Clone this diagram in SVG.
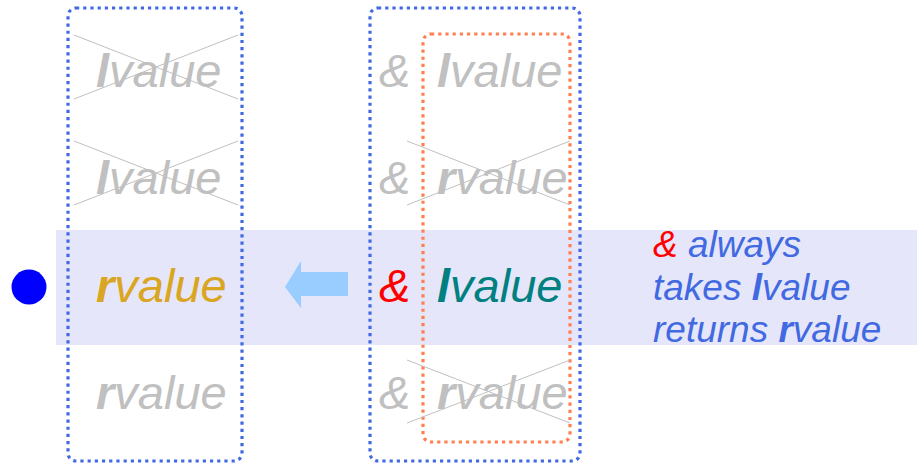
<svg xmlns="http://www.w3.org/2000/svg" width="917" height="464" viewBox="0 0 917 464">
<style>
.t{font-family:"Liberation Sans",Arial,sans-serif;font-style:italic;font-size:47px}
.g{fill:#c0c0c0}
.b{font-weight:bold}
.x{stroke:#c0c0c0;stroke-width:1;fill:none}
.box{fill:none;stroke-width:3.2;stroke-dasharray:3.2 4;stroke-linecap:butt}
.blue{stroke:#4169e1}
.org{stroke:#ff7f50}
.note{font-family:"Liberation Sans",Arial,sans-serif;font-style:italic;font-size:37px;fill:#4169e1}
</style>
<rect id="band" x="56" y="230" width="861" height="115" fill="#e6e6fa"/>
<g id="left-col">
<rect class="box blue" x="68" y="8" width="174" height="453" rx="8"/>
<g id="l1"><text class="t g" x="96" y="87"><tspan class="b">l</tspan>value</text>
<path class="x" d="M74 35L238 99M74 99L238 35"/></g>
<g id="l2"><text class="t g" x="96" y="194"><tspan class="b">l</tspan>value</text>
<path class="x" d="M74 141L238 205M74 205L238 141"/></g>
<g id="l3"><text class="t" x="96" y="302" fill="#daa520"><tspan class="b">r</tspan>value</text></g>
<g id="l4"><text class="t g" x="96" y="409"><tspan class="b">r</tspan>value</text></g>
</g>
<g id="right-col">
<rect class="box blue" x="370" y="8" width="210" height="453" rx="8"/>
<rect class="box org" x="423" y="34" width="147" height="408" rx="8"/>
<g id="r1"><text class="t g" x="379" y="87">&amp;</text><text class="t g" x="437" y="87"><tspan class="b">l</tspan>value</text></g>
<g id="r2"><text class="t g" x="379" y="194">&amp;</text><text class="t g" x="437" y="194"><tspan class="b">r</tspan>value</text>
<path class="x" d="M407 141L570 205M407 205L570 141"/></g>
<g id="r3"><text class="t" x="379" y="302" fill="#ff0000">&amp;</text><text class="t" x="437" y="302" fill="#008080"><tspan class="b">l</tspan>value</text></g>
<g id="r4"><text class="t g" x="379" y="409">&amp;</text><text class="t g" x="437" y="409"><tspan class="b">r</tspan>value</text>
<path class="x" d="M407 360L570 423M407 423L570 360"/></g>
</g>
<g id="dot"><circle cx="29" cy="287" r="17.5" fill="#0000ff"/></g>
<g id="connectors"><path d="M285 287L301 261L301 272L348 272L348 296L301 296L301 308Z" fill="#99ccff"/></g>
<g id="note">
<text class="note" x="653" y="257"><tspan fill="#ff0000">&amp;</tspan> always</text>
<text class="note" x="653" y="300">takes <tspan class="b">l</tspan>value</text>
<text class="note" x="653" y="342">returns <tspan class="b">r</tspan>value</text>
</g>
</svg>
